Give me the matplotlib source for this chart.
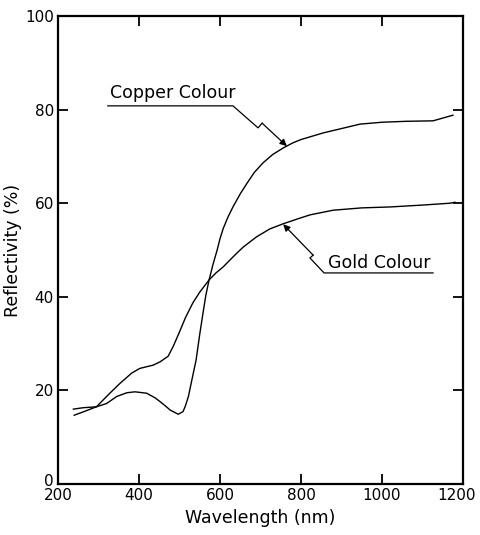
import numpy as np
import matplotlib
matplotlib.use("Agg")
import matplotlib.pyplot as plt
from matplotlib.transforms import ScaledTranslation

# copper colour curve (dip near 500 nm)
copper_wl = [238, 262, 295, 320, 345, 370, 390, 419, 440, 452, 465, 477, 497, 509, 515, 522,
             530, 541, 550, 558, 565, 573, 583, 593, 600, 608, 620, 632, 650, 667, 685,
             706, 730, 756, 780, 800, 854, 946, 1000, 1060, 1126, 1175]
copper_r = [16.0, 16.3, 16.5, 17.2, 18.7, 19.5, 19.7, 19.4, 18.4, 17.6, 16.7, 15.8, 14.9, 15.5,
            16.8, 18.7, 22.0, 26.5, 32.0, 36.5, 40.3, 43.6, 47.0, 50.0, 52.4, 54.6, 57.1, 59.2,
            62.0, 64.3, 66.6, 68.6, 70.4, 71.8, 72.9, 73.6, 75.0, 76.9, 77.3, 77.5, 77.6, 78.8]

# gold colour curve (shoulder near 400-470 nm)
gold_wl = [240, 262, 295, 328, 353, 382, 402, 435, 452, 472, 485, 501, 515, 533, 550, 573,
           590, 608, 625, 640, 657, 690, 723, 756, 790, 822, 879, 950, 1020, 1100, 1168, 1180]
gold_r = [14.7, 15.4, 16.5, 19.4, 21.5, 23.7, 24.7, 25.4, 26.1, 27.3, 29.5, 32.7, 35.6, 38.7,
          41.0, 43.6, 45.1, 46.4, 47.9, 49.2, 50.6, 52.8, 54.5, 55.6, 56.6, 57.5, 58.5, 59.0,
          59.2, 59.6, 60.0, 60.2]

x_ticks = [200, 400, 600, 800, 1000, 1200]
y_ticks = [0, 20, 40, 60, 80, 100]

plt.rcParams['font.family'] = ['DejaVu Sans']

fig = plt.figure(figsize=(4.8, 5.35), dpi=100)
ax = fig.add_axes([0.1208, 0.0953, 0.8438, 0.8748])

ax.plot(copper_wl, copper_r, color='black', lw=1.0)
ax.plot(gold_wl, gold_r, color='black', lw=1.0)

# copper label with broken leader
ax.text(328, 82.5, 'Copper Colour', fontsize=12.5, ha='left', va='baseline')
ax.plot([323, 632, 694, 704], [80.8, 80.8, 76.1, 77.1], color='black', lw=0.9)
ax.annotate('', xy=(765, 72.2), xytext=(704, 77.1),
            arrowprops=dict(arrowstyle='-|>', color='black', lw=0.9, mutation_scale=10,
                            shrinkA=0, shrinkB=0))

# gold label with broken leader
ax.text(866, 46.2, 'Gold Colour', fontsize=12.5, ha='left', va='baseline')
ax.plot([1126, 857, 822, 830], [45.1, 45.1, 48.3, 48.9], color='black', lw=0.9)
ax.annotate('', xy=(756, 55.5), xytext=(830, 48.9),
            arrowprops=dict(arrowstyle='-|>', color='black', lw=0.9, mutation_scale=10,
                            shrinkA=0, shrinkB=0))

ax.set_xlim(200, 1200)
ax.set_ylim(0, 100)
ax.set_xticks(x_ticks)
ax.set_yticks(y_ticks)
ax.tick_params(direction='in', top=True, right=True, length=7, width=1.3,
               labelsize=11, pad=3)
ax.tick_params(labeltop=False, labelright=False)
for s in ax.spines.values():
    s.set_linewidth(1.6)

# keep the last x label inside the figure, lift the y "0" a bit
last = ax.get_xticklabels()[-1]
last.set_transform(last.get_transform() + ScaledTranslation(-5 / 72, 0, fig.dpi_scale_trans))
zero = ax.get_yticklabels()[0]
zero.set_transform(zero.get_transform() + ScaledTranslation(0, 3 / 72, fig.dpi_scale_trans))

ax.set_xlabel('Wavelength (nm)', fontsize=12.5, labelpad=4)
ax.set_ylabel('Reflectivity (%)', fontsize=12.5, labelpad=2)

fig.savefig('out.png', dpi=100)
